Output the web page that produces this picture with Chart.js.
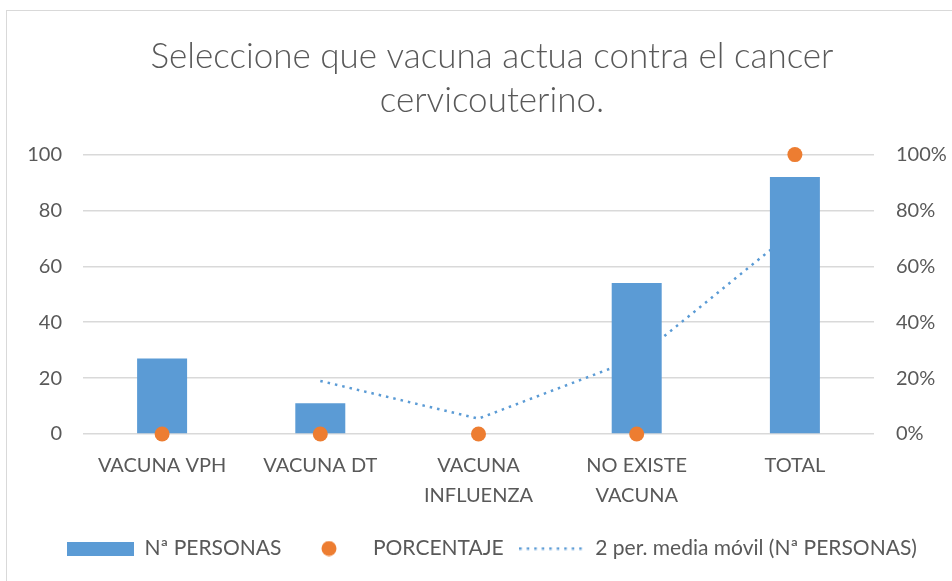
<!DOCTYPE html>
<html><head><meta charset="utf-8">
<script src="https://cdn.jsdelivr.net/npm/chart.js@4.4.1/dist/chart.umd.min.js"></script>
<style>
html,body{margin:0;padding:0;background:#fff;overflow:hidden;width:952px;height:581px;}
#wrap{position:absolute;left:6px;top:10px;width:970px;height:580px;border:1px solid #d9d9d9;background:#fff;}
canvas{display:block;}
</style></head><body>
<div id="wrap"><canvas id="c" width="970" height="580"></canvas></div>
<script>
const titleLines = ['Seleccione que vacuna actua contra el cancer', 'cervicouterino.'];
const categories = ['VACUNA VPH', 'VACUNA DT', ['VACUNA', 'INFLUENZA'], ['NO EXISTE', 'VACUNA'], 'TOTAL'];
const seriesNames = ['Nª PERSONAS', 'PORCENTAJE', '2 per. media móvil (Nª PERSONAS)'];
const personas = [27, 11, 0, 54, 92];
const porcentaje = [0, 0, 0, 0, 1];
const mediaMovil = [null, 19, 5.5, 27, 73];

const BLUE = '#5B9BD5', ORANGE = '#ED7D31', GREY = '#595959', GRID = '#d9d9d9';
const FONT = 'Lato, "Open Sans", sans-serif';

function icon(w, h, draw) {
  const c = document.createElement('canvas');
  c.width = w; c.height = h;
  draw(c.getContext('2d'));
  return c;
}
const legendIcons = [
  icon(67, 14, g => { g.fillStyle = BLUE; g.fillRect(0, 0, 67, 14); }),
  icon(16, 16, g => { g.fillStyle = ORANGE; g.beginPath(); g.arc(8, 8, 7.5, 0, Math.PI * 2); g.fill(); }),
  icon(64, 4, g => { g.strokeStyle = BLUE; g.lineWidth = 2.5; g.setLineDash([2.5, 5]); g.beginPath(); g.moveTo(0, 2); g.lineTo(64, 2); g.stroke(); })
];

new Chart(document.getElementById('c'), {
  data: {
    labels: categories,
    datasets: [
      { type: 'bar', label: seriesNames[0], data: personas, backgroundColor: BLUE, yAxisID: 'y', order: 2,
        barPercentage: 0.316, categoryPercentage: 1 },
      { type: 'line', label: seriesNames[1], data: porcentaje, yAxisID: 'y1', showLine: false,
        pointRadius: 7.5, pointBackgroundColor: ORANGE, pointBorderWidth: 0, borderWidth: 0, order: 0, clip: false },
      { type: 'line', label: seriesNames[2], data: mediaMovil, yAxisID: 'y', borderColor: BLUE, borderWidth: 2.5,
        borderDash: [2.5, 5], pointRadius: 0, order: 3, spanGaps: false, fill: false }
    ]
  },
  options: {
    responsive: false, animation: false,
    layout: { padding: { left: 0, right: 0, top: 0, bottom: 22 } },
    plugins: {
      tooltip: { enabled: false },
      title: { display: true, text: titleLines, color: GREY,
        font: { family: FONT, size: 35, weight: '300', lineHeight: 1.28 },
        padding: { top: 23, bottom: 31 } },
      legend: {
        position: 'bottom',
        labels: {
          usePointStyle: true, pointStyleWidth: 67, padding: 14, color: GREY,
          font: { family: FONT, size: 21 },
          generateLabels: chart => chart.data.datasets.map((ds, i) => ({
            text: ds.label, pointStyle: legendIcons[i], fontColor: GREY, datasetIndex: i,
            hidden: false, lineWidth: 0, strokeStyle: 'transparent', fillStyle: 'transparent'
          })),
          sort: (a, b) => a.datasetIndex - b.datasetIndex
        }
      }
    },
    scales: {
      x: {
        grid: { display: false, drawTicks: false }, border: { display: false },
        ticks: { color: GREY, font: { family: FONT, size: 20, lineHeight: 1.48 }, padding: 17, maxRotation: 0, autoSkip: false },
        afterFit: s => { s.height = 90; }
      },
      y: {
        position: 'left', min: 0, max: 100,
        ticks: { stepSize: 20, color: GREY, font: { family: FONT, size: 20 }, padding: 21 },
        grid: { color: GRID, lineWidth: 1.5, drawTicks: false }, border: { display: false },
        afterFit: s => { s.width = 76; }
      },
      y1: {
        position: 'right', min: 0, max: 1,
        ticks: { stepSize: 0.2, color: GREY, font: { family: FONT, size: 20 }, padding: 22,
          callback: v => Math.round(v * 100) + '%' },
        grid: { display: false, drawTicks: false }, border: { display: false },
        afterFit: s => { s.width = 103; }
      }
    }
  }
});
</script>
</body></html>
